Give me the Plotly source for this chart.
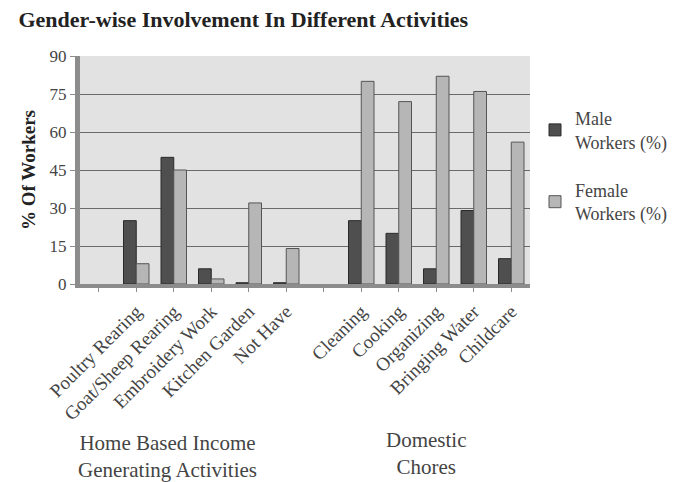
import plotly.graph_objects as go

categories = ["", "Poultry Rearing", "Goat/Sheep Rearing", "Embroidery Work", "Kitchen Garden",
              "Not Have", " ", "Cleaning", "Cooking", "Organizing", "Bringing Water", "Childcare"]
male = [None, 25, 50, 6, 0.5, 0.5, None, 25, 20, 6, 29, 10]
female = [None, 8, 45, 2, 32, 14, None, 80, 72, 82, 76, 56]
y_ticks = [0, 15, 30, 45, 60, 75, 90]
group_labels = ["Home Based Income<br>Generating Activities", "Domestic<br>Chores"]

SERIF = "Liberation Serif, Times New Roman, serif"

fig = go.Figure()
fig.add_trace(go.Bar(x=categories, y=male, name="Male<br>Workers (%)", legendgroup="m",
                     marker=dict(color="#4f4f4f", line=dict(color="#2a2a2a", width=1))))
fig.add_trace(go.Bar(x=categories, y=female, name="Female<br>Workers (%)", legendgroup="f",
                     marker=dict(color="#b6b6b6", line=dict(color="#555555", width=1))))

L, R, T, B = 80, 144, 56, 198
PW, PH = 674 - L - R, 482 - T - B

fig.update_layout(
    width=674, height=482,
    margin=dict(l=L, r=R, t=T, b=B, autoexpand=False),
    paper_bgcolor="white", plot_bgcolor="#e2e2e2",
    barmode="group", bargap=0.32, bargroupgap=0.0,
    font=dict(family=SERIF, color="#3a3a3a"),
    title=dict(text="<b>Gender-wise Involvement In Different Activities</b>",
               font=dict(family=SERIF, size=22, color="#222222"),
               x=0.361, xanchor="center", y=0.96, yanchor="middle", xref="container"),
    legend=dict(x=(535 - L) / PW, y=1 - (100 - T) / PH, xanchor="left", yanchor="top",
                font=dict(family=SERIF, size=18, color="#444444"),
                bgcolor="rgba(0,0,0,0)", tracegroupgap=22, itemwidth=30),
    showlegend=True,
)
fig.update_xaxes(type="category", categoryorder="array", categoryarray=categories,
                 tickangle=-45, tickfont=dict(family=SERIF, size=19, color="#444444"),
                 showgrid=False, showline=True, linecolor="#8c8c8c", linewidth=4,
                 ticks="outside", ticklen=4, tickcolor="#8c8c8c", ticklabelstandoff=1,
                 automargin=False)
fig.update_yaxes(range=[0, 90], tickvals=y_ticks, tickfont=dict(family=SERIF, size=17, color="#444444"),
                 showgrid=True, gridcolor="#6a6a6a", gridwidth=1,
                 showline=True, linecolor="#8c8c8c", linewidth=5, zeroline=False,
                 ticks="outside", ticklen=5, tickcolor="#8c8c8c", automargin=False,
                 title=dict(text="<b>% Of Workers</b>", font=dict(family=SERIF, size=19, color="#222222"),
                            standoff=10))

fig.add_annotation(text=group_labels[0], xref="paper", yref="paper",
                   x=(167 - L) / PW, y=-(456 - (T + PH)) / PH, xanchor="center", yanchor="middle",
                   showarrow=False, font=dict(family=SERIF, size=21, color="#444444"))
fig.add_annotation(text=group_labels[1], xref="paper", yref="paper",
                   x=(426 - L) / PW, y=-(453 - (T + PH)) / PH, xanchor="center", yanchor="middle",
                   showarrow=False, font=dict(family=SERIF, size=21, color="#444444"))

fig.write_html("out.html")
